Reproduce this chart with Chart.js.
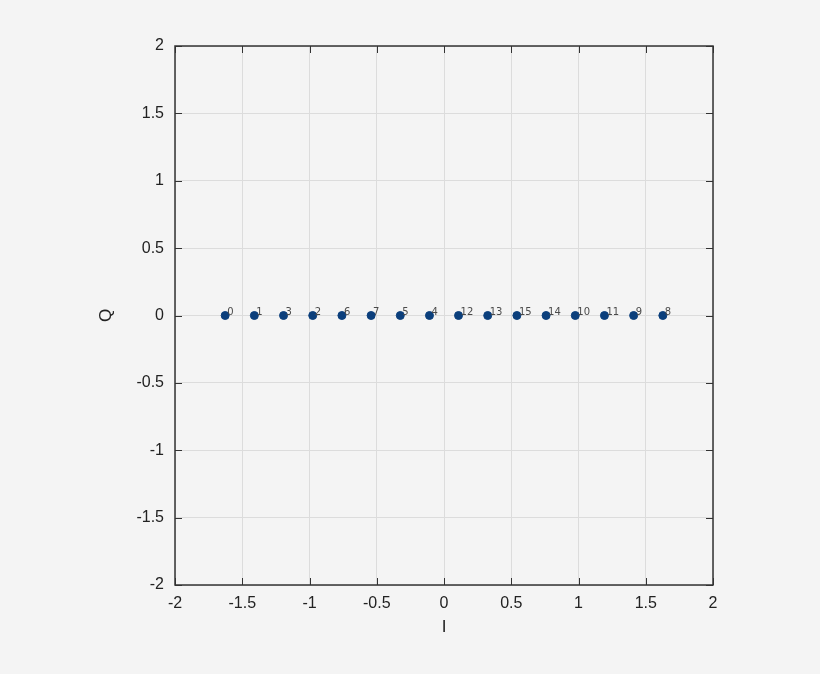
<!DOCTYPE html>
<html>
<head>
<meta charset="utf-8">
<script src="https://cdn.jsdelivr.net/npm/chart.js@4/dist/chart.umd.min.js"></script>
<style>
  html, body { margin: 0; padding: 0; background: #f4f4f4; }
  #wrap { width: 820px; height: 674px; }
</style>
</head>
<body>
<div id="wrap"><canvas id="iq-chart" width="820" height="674"></canvas></div>
<script>
// 16-PAM constellation, points sorted along I
const iValues = [-1.627, -1.410, -1.193, -0.976, -0.759, -0.542, -0.325, -0.108,
                 0.108, 0.325, 0.542, 0.759, 0.976, 1.193, 1.410, 1.627];
const qValues = [0, 0, 0, 0, 0, 0, 0, 0, 0, 0, 0, 0, 0, 0, 0, 0];
const symbolLabels = ["0", "1", "3", "2", "6", "7", "5", "4",
                      "12", "13", "15", "14", "10", "11", "9", "8"];
const axisTicks = [-2, -1.5, -1, -0.5, 0, 0.5, 1, 1.5, 2];

const points = iValues.map((x, i) => ({ x: x, y: qValues[i] }));

// box around the plot + inward tick marks on all four sides
const frame = {
  id: "frame",
  afterDatasetsDraw(chart) {
    const { ctx, chartArea: a, scales } = chart;
    ctx.save();
    ctx.strokeStyle = "#333";
    ctx.lineWidth = 1;
    ctx.beginPath();
    axisTicks.forEach(v => {
      const px = Math.round(scales.x.getPixelForValue(v)) + 0.5;
      const py = Math.round(scales.y.getPixelForValue(v)) + 0.5;
      ctx.moveTo(px, a.bottom); ctx.lineTo(px, a.bottom - 7);
      ctx.moveTo(px, a.top); ctx.lineTo(px, a.top + 7);
      ctx.moveTo(a.left, py); ctx.lineTo(a.left + 7, py);
      ctx.moveTo(a.right, py); ctx.lineTo(a.right - 7, py);
    });
    ctx.stroke();
    ctx.lineWidth = 1.5;
    ctx.strokeRect(a.left, a.top, a.right - a.left, a.bottom - a.top);
    ctx.restore();
  }
};

// symbol numbers next to each point
const pointNames = {
  id: "pointNames",
  afterDatasetsDraw(chart) {
    const ctx = chart.ctx;
    const meta = chart.getDatasetMeta(0);
    ctx.save();
    ctx.font = "10px 'DejaVu Sans'";
    ctx.fillStyle = "#4a4a4a";
    ctx.textAlign = "left";
    ctx.textBaseline = "alphabetic";
    meta.data.forEach((el, i) => {
      ctx.fillText(symbolLabels[i], el.x + 2, el.y - 1);
    });
    ctx.restore();
  }
};

const tickFont = { family: "'Liberation Sans', Arial, sans-serif", size: 16 };
const titleFont = { family: "'Liberation Sans', Arial, sans-serif", size: 17 };

const context = document.querySelector("#iq-chart").getContext("2d");
const chart = new Chart(context, {
  type: "scatter",
  data: {
    datasets: [{
      data: points,
      backgroundColor: "#0b3f7c",
      borderColor: "#0b3f7c",
      pointRadius: 4,
      pointHoverRadius: 4
    }]
  },
  options: {
    responsive: false,
    animation: false,
    events: [],
    layout: { padding: { top: 46, right: 107, left: 0, bottom: 0 } },
    plugins: { legend: { display: false }, tooltip: { enabled: false } },
    scales: {
      x: {
        type: "linear",
        min: -2,
        max: 2,
        afterBuildTicks: s => { s.ticks = axisTicks.map(v => ({ value: v })); },
        afterFit: s => { s.height = 89; },
        grid: { color: "#dcdcdc", drawTicks: false, tickLength: 0 },
        border: { display: false },
        ticks: {
          padding: 9,
          color: "#222",
          font: tickFont,
          maxRotation: 0,
          callback: v => String(v)
        },
        title: {
          display: true,
          text: "I",
          color: "#222",
          font: titleFont,
          padding: { top: 0, bottom: 36 }
        }
      },
      y: {
        type: "linear",
        min: -2,
        max: 2,
        afterBuildTicks: s => { s.ticks = axisTicks.map(v => ({ value: v })); },
        afterFit: s => { s.width = 175; },
        grid: { color: "#dcdcdc", drawTicks: false, tickLength: 0 },
        border: { display: false },
        ticks: {
          padding: 11,
          color: "#222",
          font: tickFont,
          callback: v => String(v)
        },
        title: {
          display: true,
          text: "Q",
          color: "#222",
          font: titleFont,
          padding: { top: 96, bottom: 0 }
        }
      }
    }
  },
  plugins: [frame, pointNames]
});
</script>
</body>
</html>
